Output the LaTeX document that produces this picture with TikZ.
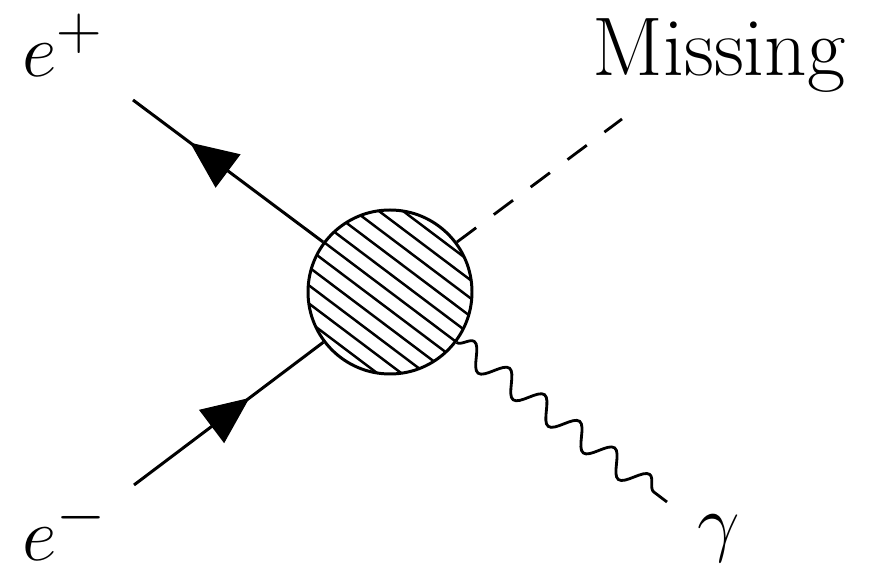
\documentclass[tikz,border=0pt]{standalone}
\usetikzlibrary{positioning,arrows.meta,decorations.markings,decorations.pathmorphing}
\tikzset{
    fermion/.style={draw=black,line width=1.7pt,postaction={decorate},
        decoration={markings,mark=at position #1 with
            {\arrow{Triangle[length=0.95cm,width=0.82cm]}}}},
    fermion/.default=0.6,
    scalar/.style={draw=black,line width=1.6pt,dash pattern=on 0.48cm off 0.44cm},
    photon/.style={draw=black,line width=1.6pt,decorate,
        decoration={snake,amplitude=0.23cm,segment length=0.88cm}},
    blob/.style={circle,draw=black,line width=1.7pt,minimum size=3.28cm,inner sep=0pt,
        path picture={
            \foreach \k in {-5,...,5}
                \draw[line width=1.4pt] (path picture bounding box.center)
                    ++(53:\k*0.29) ++(-37:-2.2) -- ++(-37:4.4);
        }},
    lbl/.style={inner sep=0pt,anchor=base west,scale=1.73,
        font=\fontsize{24.88}{30}\selectfont}
}
\begin{document}
\begin{tikzpicture}
    \useasboundingbox (0,0) rectangle (17.48,11.46);
    % blob in the middle
    \node[blob] (blob) at (7.80,5.62) {};
    % free ends of the four legs
    \coordinate (ep) at (2.66,9.46);
    \coordinate (em) at (2.68,1.76);
    \coordinate (mis) at (12.44,9.08);
    \coordinate (ga) at (13.34,1.42);

    \draw[fermion=0.7] (blob) -- (ep);
    \draw[fermion=0.61] (em) -- (blob);
    \draw[scalar] (blob) -- (mis);
    \draw[photon] (blob) -- (ga);

    % labels
    \node[lbl] (eplus) at (0.44,9.92) {$e^{+}$};
    \node[lbl] (eminus) at (0.44,0.24) {$e^{-}$};
    \node[lbl,scale=1.1] (missing) at (11.84,9.94) {Missing};
    \node[lbl] (gamma) at (13.94,0.50) {$\gamma$};
\end{tikzpicture}
\end{document}
